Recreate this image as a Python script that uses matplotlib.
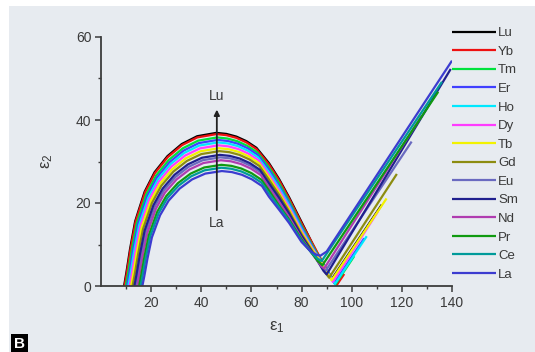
import matplotlib
matplotlib.use('Agg')
import matplotlib.pyplot as plt
from matplotlib.patches import Rectangle

plt.rcParams['font.family'] = ['Liberation Sans', 'DejaVu Sans']
plt.rcParams['mathtext.default'] = 'regular'

# ---------------- data ----------------
names = ['Lu', 'Yb', 'Tm', 'Er', 'Ho', 'Dy', 'Tb', 'Gd', 'Eu', 'Sm', 'Nd', 'Pr', 'Ce', 'La']
colors = ['#000000', '#ee1111', '#00e23c', '#4040ff', '#00e8ff', '#ff3cff', '#f2f200',
          '#8c8c10', '#6a6ac0', '#20208e', '#b03cb0', '#109a10', '#009a9a', '#3c3cd0']

lu_x = [9.2, 10.12, 11.59, 13.62, 17.41, 21.38, 26.50, 32.21, 38.35, 46.0,
        50, 54, 58, 62, 67, 71, 75, 80, 84, 88, 92, 112]
lu_y = [0, 3.22, 8.93, 15.59, 22.72, 27.42, 31.29, 34.21, 36.09, 36.9,
        36.65, 36.0, 34.9, 33.3, 29.6, 25.8, 21.4, 15.4, 10.6, 5.8, 1.6, 19.6]

yb_x = [9.4, 10.31, 11.78, 13.79, 17.56, 21.51, 26.60, 32.29, 38.39, 46.0,
        50, 54, 58, 62, 67, 71, 75, 80, 84, 88, 91, 94, 97]
yb_y = [0, 3.19, 8.85, 15.47, 22.54, 27.20, 31.04, 33.94, 35.80, 36.6,
        36.35, 35.7, 34.6, 33.0, 29.3, 25.5, 21.1, 15.1, 10.6, 6.2, 3.0, 0.2, 2.9]

tm_x = [9.9, 10.81, 12.27, 14.27, 18.02, 21.95, 27.01, 32.66, 38.73, 46.3,
        50.3, 54.3, 58.3, 62.3, 67, 71, 75, 80, 84, 88, 91, 93.5, 101]
tm_y = [0, 3.12, 8.66, 15.13, 22.04, 26.60, 30.36, 33.19, 35.02, 35.8,
        35.55, 34.9, 33.8, 32.2, 28.6, 24.8, 20.5, 14.5, 10.1, 5.9, 3.0, 0.4, 7.2]

er_x = [10.4, 11.30, 12.75, 14.73, 18.45, 22.35, 27.37, 32.98, 38.99, 46.5,
        50.5, 54.5, 58.5, 62.5, 67, 71, 75, 80, 84, 88, 91, 93, 105]
er_y = [0, 3.07, 8.51, 14.88, 21.67, 26.16, 29.85, 32.64, 34.43, 35.2,
        34.95, 34.3, 33.2, 31.6, 28.0, 24.2, 20.0, 14.1, 9.8, 5.7, 2.9, 0.7, 11.5]

ho_x = [10.9, 11.79, 13.22, 15.18, 18.86, 22.72, 27.68, 33.23, 39.18, 46.6,
        50.6, 54.6, 58.6, 62.6, 67, 71, 75, 80, 84, 88, 91, 93.3, 106]
ho_y = [0, 3.02, 8.37, 14.62, 21.30, 25.71, 29.34, 32.08, 33.84, 34.6,
        34.35, 33.7, 32.6, 31.0, 27.4, 23.7, 19.5, 13.7, 9.5, 5.6, 2.8, 0.5, 12.0]

dy_x = [11.4, 12.28, 13.70, 15.65, 19.29, 23.12, 28.04, 33.54, 39.44, 46.8,
        50.8, 54.8, 58.8, 62.8, 67, 71, 75, 80, 84, 88, 90.5, 92.5, 110.4]
dy_y = [0, 2.96, 8.20, 14.33, 20.87, 25.19, 28.75, 31.43, 33.16, 33.9,
        33.65, 33.0, 31.9, 30.3, 26.8, 23.1, 19.0, 13.3, 9.3, 5.6, 3.0, 1.0, 17.9]

tb_x = [12.0, 12.87, 14.27, 16.2, 19.8, 23.58, 28.45, 33.89, 39.72, 47.0,
        51, 55, 59, 63, 67, 71, 75, 80, 84, 88, 90, 92, 113.9]
tb_y = [0, 2.90, 8.03, 14.03, 20.44, 24.67, 28.15, 30.78, 32.47, 33.2,
        32.95, 32.3, 31.2, 29.6, 26.2, 22.5, 18.5, 12.9, 9.1, 5.5, 3.3, 1.4, 21.1]

gd_x = [12.6, 13.46, 14.85, 16.75, 20.32, 24.05, 28.86, 34.24, 40.01, 47.2,
        51.2, 55.2, 59.2, 63.2, 67, 71, 75, 80, 84, 87.5, 89.5, 91, 118]
gd_y = [0, 2.83, 7.86, 13.73, 20.01, 24.15, 27.56, 30.13, 31.79, 32.5,
        32.25, 31.6, 30.5, 28.9, 25.6, 22.0, 18.0, 12.5, 8.7, 5.3, 3.2, 2.0, 27.0]

eu_x = [13.9, 14.74, 16.09, 17.94, 21.42, 25.05, 29.74, 34.98, 40.59, 47.6,
        51.6, 55.6, 59.6, 63.6, 67, 71, 75, 80, 84, 87, 88.5, 89.5, 123.9]
eu_y = [0, 2.70, 7.50, 13.10, 19.09, 23.04, 26.29, 28.74, 30.32, 31.0,
        30.75, 30.1, 29.0, 27.4, 24.2, 20.7, 17.0, 11.8, 8.2, 5.6, 4.2, 3.6, 34.8]

sm_x = [13.3, 14.15, 15.52, 17.39, 20.90, 24.59, 29.33, 34.63, 40.31, 47.4,
        51.4, 55.4, 59.4, 63.4, 67, 71, 75, 80, 84, 87, 88.8, 90, 139.5]
sm_y = [0, 2.76, 7.64, 13.35, 19.46, 23.48, 26.80, 29.30, 30.91, 31.6,
        31.35, 30.7, 29.6, 28.0, 24.8, 21.3, 17.5, 12.1, 8.4, 5.4, 3.6, 2.8, 52.3]

nd_x = [14.5, 15.33, 16.66, 18.50, 21.93, 25.52, 30.15, 35.33, 40.88, 47.8,
        51.8, 55.8, 59.8, 63.8, 67, 71, 75, 80, 84, 86.8, 88, 89, 128]
nd_y = [0, 2.64, 7.33, 12.80, 18.66, 22.52, 25.69, 28.09, 29.64, 30.3,
        30.05, 29.4, 28.3, 26.7, 23.6, 20.2, 16.6, 11.5, 8.0, 5.7, 4.7, 4.2, 41.1]

pr_x = [15.2, 16.02, 17.33, 19.14, 22.51, 26.06, 30.62, 35.71, 41.18, 48.0,
        52, 56, 60, 64, 67, 71, 75, 80, 84, 86.5, 88.3, 134.5]
pr_y = [0, 2.55, 7.06, 12.34, 17.98, 21.70, 24.76, 27.07, 28.56, 29.2,
        28.95, 28.3, 27.2, 25.6, 23.0, 19.4, 16.0, 11.2, 8.0, 6.0, 5.0, 46.8]

ce_x = [15.8, 16.60, 17.89, 19.66, 22.98, 26.46, 30.93, 35.94, 41.31, 48.0,
        52, 56, 60, 64, 67, 71, 75, 80, 84, 86.3, 88, 136]
ce_y = [0, 2.49, 6.89, 12.04, 17.55, 21.18, 24.17, 26.43, 27.88, 28.5,
        28.25, 27.6, 26.5, 24.9, 22.3, 19.0, 15.7, 10.9, 8.0, 6.6, 6.0, 49.2]

la_x = [16.5, 17.29, 18.56, 20.30, 23.57, 26.99, 31.40, 36.33, 41.61, 48.2,
        52.2, 56.2, 60.2, 64.2, 67, 71, 75, 80, 83.5, 86, 87.5, 90, 140]
la_y = [0, 2.42, 6.70, 11.71, 17.06, 20.58, 23.49, 25.68, 27.09, 27.7,
        27.45, 26.8, 25.7, 24.1, 21.5, 18.4, 15.2, 10.6, 8.4, 7.5, 7.3, 8.3, 54.3]

xs_all = [lu_x, yb_x, tm_x, er_x, ho_x, dy_x, tb_x, gd_x, eu_x, sm_x, nd_x, pr_x, ce_x, la_x]
ys_all = [lu_y, yb_y, tm_y, er_y, ho_y, dy_y, tb_y, gd_y, eu_y, sm_y, nd_y, pr_y, ce_y, la_y]

x_major = [20, 40, 60, 80, 100, 120, 140]
x_minor = [10, 30, 50, 70, 90, 110, 130]
y_major = [0, 20, 40, 60]
y_minor = [10, 30, 50]

# ---------------- figure ----------------
W, H = 535, 352
BG = '#e7ebf0'
TXT = '#3a3a3a'
fig = plt.figure(figsize=(W / 100, H / 100), dpi=100)
fig.patch.set_facecolor('white')
fig.patches.append(Rectangle((9 / W, 0), 1 - 9 / W, (H - 6) / H, transform=fig.transFigure,
                             facecolor=BG, edgecolor='none', zorder=-10))

ax = fig.add_axes([101 / W, 66 / H, 351 / W, 249 / H])
ax.set_zorder(5)
ax.patch.set_alpha(0)

for name, xs, ys, col in zip(names, xs_all, ys_all, colors):
    ax.plot(xs, ys, color=col, lw=1.6, label=name, solid_joinstyle='round', solid_capstyle='butt')

ax.set_xlim(0, 140)
ax.set_ylim(0, 60)
ax.set_xticks(x_major)
ax.set_xticks(x_minor, minor=True)
ax.set_yticks(y_major)
ax.set_yticks(y_minor, minor=True)

for s in ['top', 'right']:
    ax.spines[s].set_visible(False)
for s in ['left', 'bottom']:
    ax.spines[s].set_color('#3c3c3c')
    ax.spines[s].set_linewidth(1.3)

ax.tick_params(which='major', direction='out', length=4, width=1.1, color='#3c3c3c',
               labelsize=10, labelcolor=TXT, pad=3)
ax.tick_params(which='minor', direction='out', length=2.5, width=1.0, color='#3c3c3c')

ax.set_xlabel('ε$_1$', fontsize=12, color=TXT, labelpad=7)
ax.set_ylabel('ε$_2$', fontsize=12, color=TXT, labelpad=15)

# arrow La -> Lu
ax.annotate('', xy=(46.2, 42.5), xytext=(46.2, 18.3),
            arrowprops=dict(arrowstyle='-|>', color='#222222', lw=1.3, mutation_scale=8,
                            shrinkA=0, shrinkB=0))
ax.text(46.2, 45.8, 'Lu', ha='center', va='center', fontsize=10, color=TXT)
ax.text(46.2, 15.1, 'La', ha='center', va='center', fontsize=10, color=TXT)

leg = ax.legend(loc='upper left', bbox_to_anchor=(1.0, 1.04), frameon=False, fontsize=9.5,
                handlelength=3.3, handletextpad=0.2, labelspacing=0.48,
                borderaxespad=0, borderpad=0)
for t in leg.get_texts():
    t.set_color(TXT)

fig.text(19.5 / W, 8.5 / H, 'B', ha='center', va='center', color='white', fontweight='bold',
         fontsize=11, bbox=dict(boxstyle='square,pad=0.18', fc='black', ec='none'))

fig.savefig('out.png', dpi=100, facecolor=fig.get_facecolor())
